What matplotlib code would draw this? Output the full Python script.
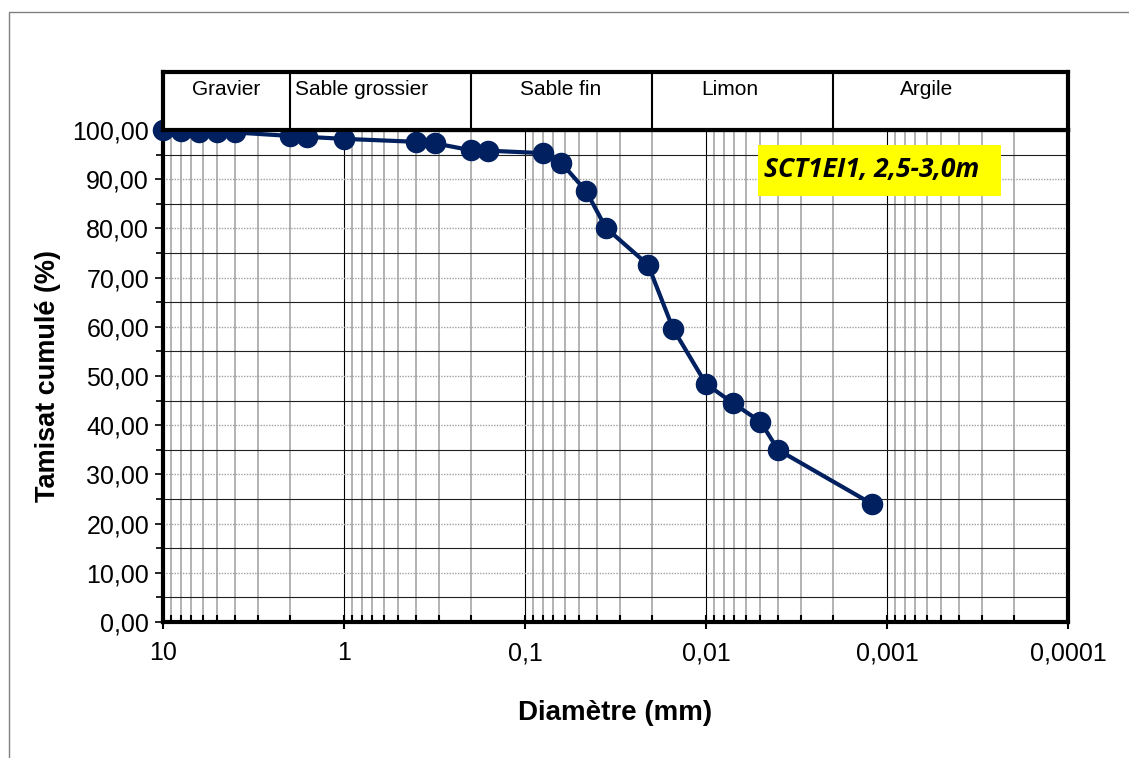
#!/usr/bin/env python3
"""Courbe granulométrique (tamisat cumulé vs diamètre)."""

import matplotlib
matplotlib.use('Agg')
import matplotlib.pyplot as plt
from matplotlib.patches import Rectangle
from matplotlib.ticker import FixedLocator, LogLocator, NullFormatter, FuncFormatter

# Data
diametre_mm = [10, 8, 6.3, 5, 4, 2, 1.6, 1, 0.4, 0.315, 0.2, 0.16, 0.08,
               0.063, 0.046, 0.0357, 0.0209, 0.0152, 0.01, 0.0071, 0.0050,
               0.0040, 0.00121]
tamisat_pct = [99.9, 99.7, 99.6, 99.6, 99.5, 98.8, 98.6, 98.2, 97.6, 97.3,
               95.9, 95.8, 95.3, 93.3, 87.6, 80.1, 72.6, 59.6, 48.4, 44.5,
               40.7, 35.0, 24.0]

classes = ["Gravier", "Sable grossier", "Sable fin", "Limon", "Argile"]
class_bounds = [10, 2, 0.2, 0.02, 0.002, 0.0001]
x_ticks = [10, 1, 0.1, 0.01, 0.001, 0.0001]
sample_label = "SCT1EI1, 2,5-3,0m"

navy = '#002060'
plt.rcParams['font.family'] = ['Liberation Sans', 'DejaVu Sans']


def fmt_x(v, pos):
    if v >= 1:
        return f"{v:g}"
    decimals = len(str(round(1 / v))) - 1
    return f"{v:.{decimals}f}".replace('.', ',')


fig = plt.figure(figsize=(11.29, 7.58), dpi=100)
fig.patch.set_facecolor('white')

# outer frame
fig.patches.append(Rectangle((9 / 1129, -0.05), 1.2, 1.05 - 12 / 758,
                             transform=fig.transFigure, fill=False,
                             edgecolor='#808080', linewidth=1.0))

L, R = 163 / 1129, 1068 / 1129
B, T = 1 - 622 / 758, 1 - 130 / 758
ax = fig.add_axes([L, B, R - L, T - B])
ax.set_xscale('log')
ax.set_xlim(10, 0.0001)
ax.set_ylim(0, 100)

# grid: vertical log lines, horizontal lines at 10 (dotted) and 5-offsets (solid)
ax.xaxis.set_major_locator(FixedLocator(x_ticks))
ax.xaxis.set_minor_locator(LogLocator(base=10, subs=range(2, 10)))
ax.xaxis.set_minor_formatter(NullFormatter())
ax.xaxis.set_major_formatter(FuncFormatter(fmt_x))
ax.yaxis.set_major_locator(FixedLocator(range(0, 101, 10)))
ax.yaxis.set_minor_locator(FixedLocator(range(5, 100, 10)))
ax.yaxis.set_major_formatter(FuncFormatter(lambda v, p: f"{v:.2f}".replace('.', ',')))

ax.grid(True, which='major', axis='x', color='black', linewidth=0.8)
ax.grid(True, which='minor', axis='x', color='#a6a6a6', linewidth=1.2)
ax.grid(True, which='major', axis='y', color='#a0a0a0', linewidth=1.0, linestyle=(0, (1, 1)))
ax.grid(True, which='minor', axis='y', color='#202020', linewidth=0.8)
ax.set_axisbelow(True)

ax.tick_params(axis='x', which='major', direction='inout', length=10, width=1.5,
               labelsize=18, pad=9)
ax.tick_params(axis='x', which='minor', direction='in', length=5, width=1.5)
ax.tick_params(axis='y', which='major', direction='out', length=6, width=1.2,
               labelsize=18, pad=4)
ax.tick_params(axis='y', which='minor', direction='out', length=5, width=1.2)

for side in ['left', 'bottom', 'right', 'top']:
    ax.spines[side].set_linewidth(3)
    ax.spines[side].set_color('black')

ax.plot(diametre_mm, tamisat_pct, color=navy, linewidth=3, marker='o',
        markersize=14.5, markerfacecolor=navy, markeredgecolor=navy,
        clip_on=False, zorder=5)

ax.set_xlabel("Diamètre (mm)", fontsize=20, fontweight='bold', labelpad=25)
ax.set_ylabel("Tamisat cumulé (%)", fontsize=19.5, fontweight='bold', labelpad=8)

# sample label on yellow background
ax.add_patch(Rectangle((0.657, 0.866), 0.269, 0.104, transform=ax.transAxes,
                       facecolor='yellow', edgecolor='none', zorder=6))
ax.text(0.664, 0.919, sample_label, transform=ax.transAxes, fontsize=19,
        fontweight='bold', fontstyle='italic', family=['Open Sans', 'DejaVu Sans'],
        va='center', ha='left', zorder=7)

# classification band above the plot
band = fig.add_axes([L, T, R - L, (1 - 72 / 758) - T])
band.set_xscale('log')
band.set_xlim(10, 0.0001)
band.set_ylim(0, 1)
band.set_xticks([])
band.set_yticks([])
band.minorticks_off()
for side in ['left', 'right', 'top', 'bottom']:
    band.spines[side].set_linewidth(3)
for b in class_bounds[1:-1]:
    band.axvline(b, color='black', linewidth=1.5)

label_shift_pt = [0, 0, 0, -9, -17]
for i, name in enumerate(classes):
    lo, hi = class_bounds[i], class_bounds[i + 1]
    if name == "Sable grossier":
        band.annotate(name, (lo, 0.7), xytext=(4, 0), textcoords='offset points',
                      ha='left', va='center', fontsize=15)
    else:
        xc = (lo * hi) ** 0.5
        band.annotate(name, (xc, 0.7), xytext=(label_shift_pt[i], 0),
                      textcoords='offset points', ha='center', va='center', fontsize=15)

plt.savefig('out.png', dpi=100, facecolor='white')
plt.close()
